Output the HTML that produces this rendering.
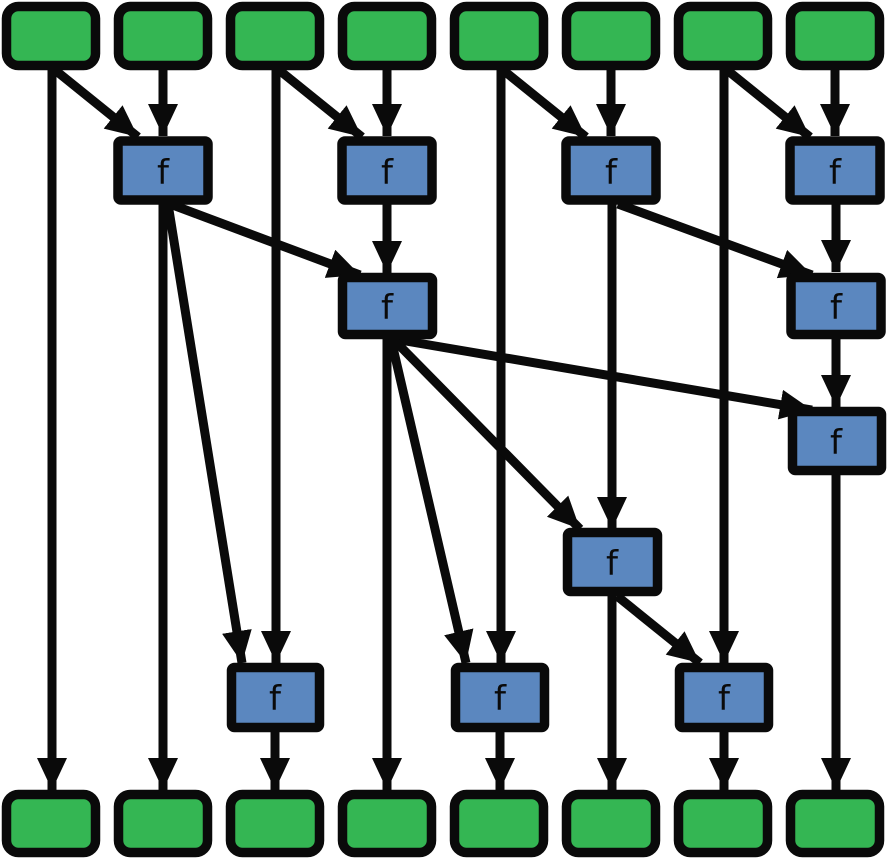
<!DOCTYPE html>
<html><head><meta charset="utf-8"><style>
html,body{margin:0;padding:0;background:#fff;}
svg{display:block}
</style></head><body>
<svg width="887" height="858" viewBox="0 0 887 858" xmlns="http://www.w3.org/2000/svg">
<defs>
<marker id="a" markerUnits="userSpaceOnUse" markerWidth="36" markerHeight="36" refX="32" refY="15" orient="auto">
<polygon points="0,0 32,15 0,30" fill="#0a0a0a"/>
</marker>
</defs>
<g stroke="#0a0a0a" stroke-width="9" fill="none" marker-end="url(#a)">
<line x1="163" y1="70" x2="163" y2="136"/>
<line x1="387" y1="70" x2="387" y2="136"/>
<line x1="611" y1="70" x2="611" y2="136"/>
<line x1="835" y1="70" x2="835" y2="136"/>
<line x1="55" y1="70" x2="138" y2="137"/>
<line x1="279" y1="70" x2="362" y2="137"/>
<line x1="503" y1="70" x2="586" y2="137"/>
<line x1="727" y1="70" x2="810" y2="137"/>
<line x1="52" y1="70" x2="52" y2="790"/>
<line x1="276" y1="70" x2="276" y2="663"/>
<line x1="501" y1="70" x2="501" y2="663"/>
<line x1="724" y1="70" x2="724" y2="663"/>
<line x1="163" y1="204" x2="163" y2="790"/>
<line x1="170" y1="204" x2="360" y2="275"/>
<line x1="168" y1="204" x2="242" y2="663"/>
<line x1="387" y1="204" x2="387" y2="273"/>
<line x1="612" y1="204" x2="612" y2="529"/>
<line x1="618" y1="204" x2="812" y2="275"/>
<line x1="836" y1="204" x2="836" y2="272"/>
<line x1="387" y1="339" x2="387" y2="790"/>
<line x1="394" y1="339" x2="812" y2="410"/>
<line x1="393" y1="339" x2="580" y2="529"/>
<line x1="391" y1="339" x2="466" y2="663"/>
<line x1="836" y1="339" x2="836" y2="407"/>
<line x1="836" y1="475" x2="836" y2="790"/>
<line x1="612" y1="596" x2="612" y2="790"/>
<line x1="617" y1="596" x2="700" y2="663"/>
<line x1="275" y1="731" x2="275" y2="790"/>
<line x1="500" y1="731" x2="500" y2="790"/>
<line x1="724" y1="731" x2="724" y2="790"/>
</g>
<g stroke="#0a0a0a" stroke-width="9.5" fill="#34b653">
<rect x="6.5" y="6.5" width="89" height="59" rx="12"/>
<rect x="118.5" y="6.5" width="89" height="59" rx="12"/>
<rect x="230.5" y="6.5" width="89" height="59" rx="12"/>
<rect x="342.5" y="6.5" width="89" height="59" rx="12"/>
<rect x="454.5" y="6.5" width="89" height="59" rx="12"/>
<rect x="566.5" y="6.5" width="89" height="59" rx="12"/>
<rect x="678.5" y="6.5" width="89" height="59" rx="12"/>
<rect x="790.5" y="6.5" width="89" height="59" rx="12"/>
<rect x="6.5" y="794.5" width="89" height="58" rx="12"/>
<rect x="118.5" y="794.5" width="89" height="58" rx="12"/>
<rect x="230.5" y="794.5" width="89" height="58" rx="12"/>
<rect x="342.5" y="794.5" width="89" height="58" rx="12"/>
<rect x="454.5" y="794.5" width="89" height="58" rx="12"/>
<rect x="566.5" y="794.5" width="89" height="58" rx="12"/>
<rect x="678.5" y="794.5" width="89" height="58" rx="12"/>
<rect x="790.5" y="794.5" width="89" height="58" rx="12"/>
</g>
<g stroke="#0a0a0a" stroke-width="9.5" fill="#5b87bf">
<rect x="118" y="141" width="90" height="59" rx="3"/>
<rect x="342" y="141" width="90" height="59" rx="3"/>
<rect x="566" y="141" width="90" height="59" rx="3"/>
<rect x="790" y="141" width="90" height="59" rx="3"/>
<rect x="342.5" y="277.5" width="90" height="57" rx="3"/>
<rect x="791" y="277.5" width="90" height="57" rx="3"/>
<rect x="792.5" y="411.5" width="89" height="59" rx="3"/>
<rect x="567.5" y="532.5" width="90" height="59" rx="3"/>
<rect x="231.5" y="667.5" width="88" height="60" rx="3"/>
<rect x="455.5" y="667.5" width="89" height="60" rx="3"/>
<rect x="679.5" y="667.5" width="89" height="60" rx="3"/>
</g>
<g font-family="DejaVu Sans, sans-serif" font-size="34" fill="#0a0a0a" text-anchor="middle">
<text x="163" y="184">f</text>
<text x="387" y="184">f</text>
<text x="611" y="184">f</text>
<text x="835" y="184">f</text>
<text x="387" y="319">f</text>
<text x="836" y="319">f</text>
<text x="836" y="454">f</text>
<text x="612" y="575">f</text>
<text x="275" y="710">f</text>
<text x="500" y="710">f</text>
<text x="724" y="710">f</text>
</g>
</svg>
</body></html>
